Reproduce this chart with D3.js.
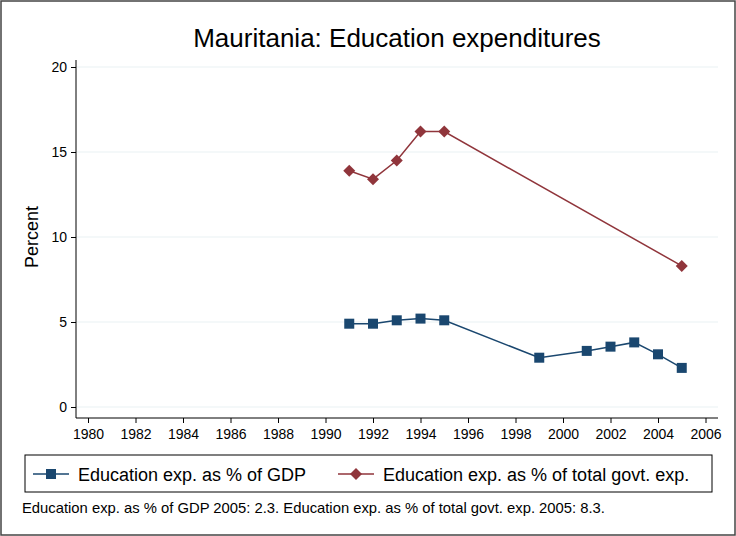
<!DOCTYPE html>
<html>
<head>
<meta charset="utf-8">
<script src="https://cdn.jsdelivr.net/npm/d3@7"></script>
<style>
  body { margin: 0; background: #fff; }
  text { font-family: "Liberation Sans", Arial, sans-serif; }
</style>
</head>
<body>
<script>
// data
let gdpYears = [1991, 1992, 1993, 1994, 1995, 1999, 2001, 2002, 2003, 2004, 2005];
let gdpValues = [4.9, 4.9, 5.1, 5.2, 5.1, 2.9, 3.3, 3.55, 3.8, 3.1, 2.3];
let govYears = [1991, 1992, 1993, 1994, 1995, 2005];
let govValues = [13.9, 13.4, 14.5, 16.2, 16.2, 8.3];
let xTicks = d3.range(1980, 2007, 2);
let yTicks = [0, 5, 10, 15, 20];
let seriesNames = ["Education exp. as % of GDP", "Education exp. as % of total govt. exp."];
let noteText = "Education exp. as % of GDP 2005: 2.3. Education exp. as % of total govt. exp. 2005: 8.3.";

let blue = "#1a476f";
let red = "#90353b";

let svg = d3.select('body')
  .append('svg')
  .attr("width", 736)
  .attr("height", 536);

// outer frame
svg.append("rect")
  .attr("x", 1).attr("y", 1)
  .attr("width", 734).attr("height", 534)
  .attr("fill", "#fff")
  .attr("stroke", "#444")
  .attr("stroke-width", 1.5);

let plotLeft = 76, plotRight = 718, plotTop = 60, plotBottom = 418;

let x = d3.scaleLinear().domain([1980, 2006]).range([88, 705.5]);
let y = d3.scaleLinear().domain([0, 20]).range([407, 67]);

// gridlines
svg.append("g")
  .selectAll("line")
  .data(yTicks)
  .join("line")
  .attr("x1", plotLeft).attr("x2", plotRight)
  .attr("y1", d => y(d)).attr("y2", d => y(d))
  .attr("stroke", "#eaf2f3")
  .attr("stroke-width", 1.2);

// axes
let yAxis = svg.append("g")
  .attr("transform", `translate(${plotLeft},0)`)
  .call(d3.axisLeft(y).tickValues(yTicks).tickSize(5).tickPadding(4).tickSizeOuter(0));
yAxis.select(".domain").attr("d", `M0,${plotTop}V${plotBottom}`);

let xAxis = svg.append("g")
  .attr("transform", `translate(0,${plotBottom})`)
  .call(d3.axisBottom(x).tickValues(xTicks).tickFormat(d3.format("d")).tickSize(5).tickPadding(6).tickSizeOuter(0));
xAxis.select(".domain").attr("d", `M${plotLeft},0H${plotRight}`);

svg.selectAll(".tick text")
  .attr("font-size", 14)
  .attr("fill", "#000")
  .style("font-family", '"Liberation Sans", Arial, sans-serif');
svg.selectAll(".domain, .tick line").attr("stroke", "#000");

// axis title
svg.append("text")
  .attr("transform", `translate(38,${y(10)}) rotate(-90)`)
  .attr("text-anchor", "middle")
  .attr("font-size", 18)
  .text("Percent");

// title
svg.append("text")
  .attr("x", (plotLeft + plotRight) / 2)
  .attr("y", 47)
  .attr("text-anchor", "middle")
  .attr("font-size", 26)
  .text("Mauritania: Education expenditures");

let lineFunction = d3.line()
  .x(d => x(d[0]))
  .y(d => y(d[1]));

let gdp = d3.zip(gdpYears, gdpValues);
let gov = d3.zip(govYears, govValues);

svg.append("path")
  .attr("d", lineFunction(gov))
  .attr("stroke", red).attr("stroke-width", 1.5).attr("fill", "none");
svg.append("path")
  .attr("d", lineFunction(gdp))
  .attr("stroke", blue).attr("stroke-width", 1.5).attr("fill", "none");

let diamond = d3.symbol().type(d3.symbolSquare).size(72);

svg.append("g")
  .selectAll("path")
  .data(gov)
  .join("path")
  .attr("d", diamond)
  .attr("transform", d => `translate(${x(d[0])},${y(d[1])}) rotate(45)`)
  .attr("fill", red);

svg.append("g")
  .selectAll("rect")
  .data(gdp)
  .join("rect")
  .attr("x", d => x(d[0]) - 5)
  .attr("y", d => y(d[1]) - 5)
  .attr("width", 10).attr("height", 10)
  .attr("fill", blue);

// legend
svg.append("rect")
  .attr("x", 25).attr("y", 455)
  .attr("width", 687).attr("height", 37)
  .attr("fill", "#fff")
  .attr("stroke", "#000")
  .attr("stroke-width", 1);

let legendItems = [
  { name: seriesNames[0], color: blue, x0: 33, shape: "square" },
  { name: seriesNames[1], color: red, x0: 338, shape: "diamond" }
];

legendItems.forEach(item => {
  let g = svg.append("g").attr("transform", `translate(${item.x0},474)`);
  g.append("line")
    .attr("x1", 0).attr("x2", 36)
    .attr("stroke", item.color).attr("stroke-width", 1.5);
  if (item.shape === "square") {
    g.append("rect").attr("x", 13).attr("y", -5).attr("width", 10).attr("height", 10).attr("fill", item.color);
  } else {
    g.append("path").attr("d", diamond).attr("transform", "translate(18,0) rotate(45)").attr("fill", item.color);
  }
  g.append("text")
    .attr("x", 45).attr("y", 6.5)
    .attr("font-size", 18)
    .text(item.name);
});

svg.append("text")
  .attr("x", 22).attr("y", 513)
  .attr("font-size", 14.8)
  .text(noteText);
</script>
</body>
</html>
